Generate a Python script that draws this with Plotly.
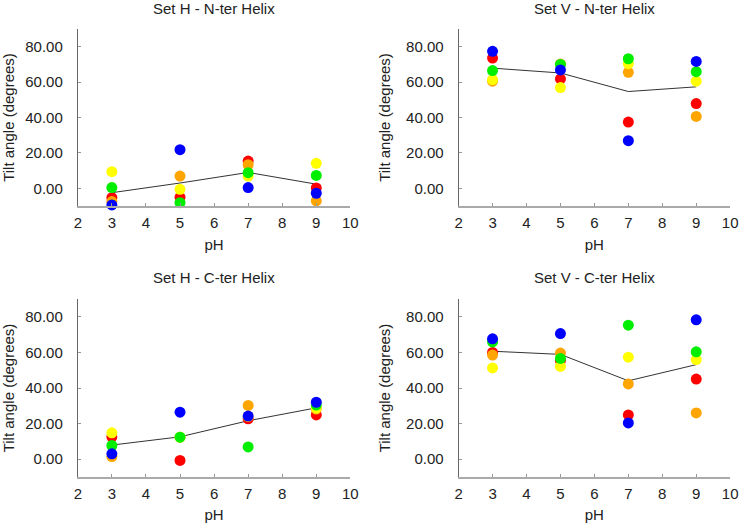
import plotly.graph_objects as go

ph = [3, 5, 7, 9]
colors = ["#ff0000", "#ffa500", "#ffff00", "#00ee00", "#0000ff"]
series_names = ["Red", "Orange", "Yellow", "Green", "Blue"]

# Set H - N-ter Helix (per series, values at pH 3,5,7,9)
h_nter_red = [-5.3, -5.1, 15.4, 0.2]
h_nter_orange = [-7.5, 6.9, 13.3, -7.1]
h_nter_yellow = [9.4, -0.6, 6.9, 14.1]
h_nter_green = [0.4, -8.1, 8.8, 7.3]
h_nter_blue = [-9.4, 21.8, 0.4, -2.8]

# Set V - N-ter Helix
v_nter_red = [73.6, 61.8, 37.4, 47.9]
v_nter_orange = [60.5, 70.2, 65.5, 40.6]
v_nter_yellow = [61.4, 56.9, 70.4, 60.5]
v_nter_green = [66.5, 70.0, 73.2, 65.9]
v_nter_blue = [77.4, 66.9, 26.9, 71.7]

# Set H - C-ter Helix
h_cter_red = [12.6, -0.7, 22.7, 24.9]
h_cter_orange = [1.5, 12.4, 30.2, 28.2]
h_cter_yellow = [14.8, 12.4, 24.0, 28.7]
h_cter_green = [7.7, 12.4, 6.9, 30.4]
h_cter_blue = [3.0, 26.4, 24.2, 32.0]

# Set V - C-ter Helix
v_cter_red = [60.0, 55.5, 24.9, 45.0]
v_cter_orange = [58.5, 59.6, 42.3, 26.0]
v_cter_yellow = [51.3, 52.1, 57.3, 56.0]
v_cter_green = [65.9, 56.6, 75.3, 60.3]
v_cter_blue = [67.6, 70.6, 20.4, 78.3]

panels = [
    ("Set H - N-ter Helix", [h_nter_red, h_nter_orange, h_nter_yellow, h_nter_green, h_nter_blue]),
    ("Set V - N-ter Helix", [v_nter_red, v_nter_orange, v_nter_yellow, v_nter_green, v_nter_blue]),
    ("Set H - C-ter Helix", [h_cter_red, h_cter_orange, h_cter_yellow, h_cter_green, h_cter_blue]),
    ("Set V - C-ter Helix", [v_cter_red, v_cter_orange, v_cter_yellow, v_cter_green, v_cter_blue]),
]

x_ticks = [2, 3, 4, 5, 6, 7, 8, 9, 10]
y_ticks = [0, 20, 40, 60, 80]
y_tick_text = ["0.00", "20.00", "40.00", "60.00", "80.00"]

W, H = 749, 523
x_px = [[75, 352], [462, 738]]
y_px = [[29, 206], [299, 477]]
x_doms = [[a / W, b / W] for a, b in x_px]
y_doms = [[1 - b / H, 1 - a / H] for a, b in y_px]

fig = go.Figure()
font = "Liberation Sans, Arial, sans-serif"
FS = 15
txt = "#222222"
annotations = []

for i, (title, series) in enumerate(panels):
    row, col = divmod(i, 2)
    ax = "" if i == 0 else str(i + 1)
    xref, yref = "x" + ax, "y" + ax
    means = [sum(s[j] for s in series) / len(series) for j in range(len(ph))]
    fig.add_trace(go.Scatter(x=ph, y=means, mode="lines",
                             line=dict(color="#333333", width=1),
                             xaxis=xref, yaxis=yref, showlegend=False,
                             hoverinfo="skip"))
    for name, s, c in zip(series_names, series, colors):
        fig.add_trace(go.Scatter(x=ph, y=s, mode="markers", name=name,
                                 marker=dict(color=c, size=11, line=dict(width=0)),
                                 cliponaxis=False,
                                 xaxis=xref, yaxis=yref, showlegend=False))
    xa = dict(domain=x_doms[col], range=[2, 10], tickvals=x_ticks,
              showline=True, linecolor="#aaaaaa", linewidth=2,
              ticks="inside", ticklen=3, tickcolor="#999999", tickwidth=1,
              showgrid=False, zeroline=False, anchor=yref,
              ticklabelstandoff=2,
              tickfont=dict(family=font, size=FS, color=txt),
              title=dict(text="pH", font=dict(family=font, size=FS, color=txt),
                         standoff=9))
    ya = dict(domain=y_doms[row], range=[-10, 90], tickvals=y_ticks,
              ticktext=y_tick_text,
              showline=True, linecolor="#666666", linewidth=1,
              ticks="inside", ticklen=3, tickcolor="#999999", tickwidth=1,
              showgrid=False, zeroline=False, anchor=xref,
              ticklabelstandoff=11,
              tickfont=dict(family=font, size=FS, color=txt),
              title=dict(text="Tilt angle (degrees)",
                         font=dict(family=font, size=FS, color=txt),
                         standoff=11))
    fig.layout["xaxis" + ax] = xa
    fig.layout["yaxis" + ax] = ya
    cx = (x_doms[col][0] + x_doms[col][1]) / 2
    ty = 1 - (9 if row == 0 else 277) / H
    annotations.append(dict(text=title, x=cx, y=ty, xref="paper", yref="paper",
                            xanchor="center", yanchor="middle", showarrow=False,
                            borderpad=0,
                            font=dict(family=font, size=FS, color=txt)))

fig.update_layout(width=W, height=H, margin=dict(l=0, r=0, t=0, b=0),
                  paper_bgcolor="white", plot_bgcolor="white",
                  annotations=annotations, showlegend=False)

fig.write_html("out.html", config={"displayModeBar": False},
               post_script="document.body.style.margin='0';document.body.style.overflow='hidden';")
